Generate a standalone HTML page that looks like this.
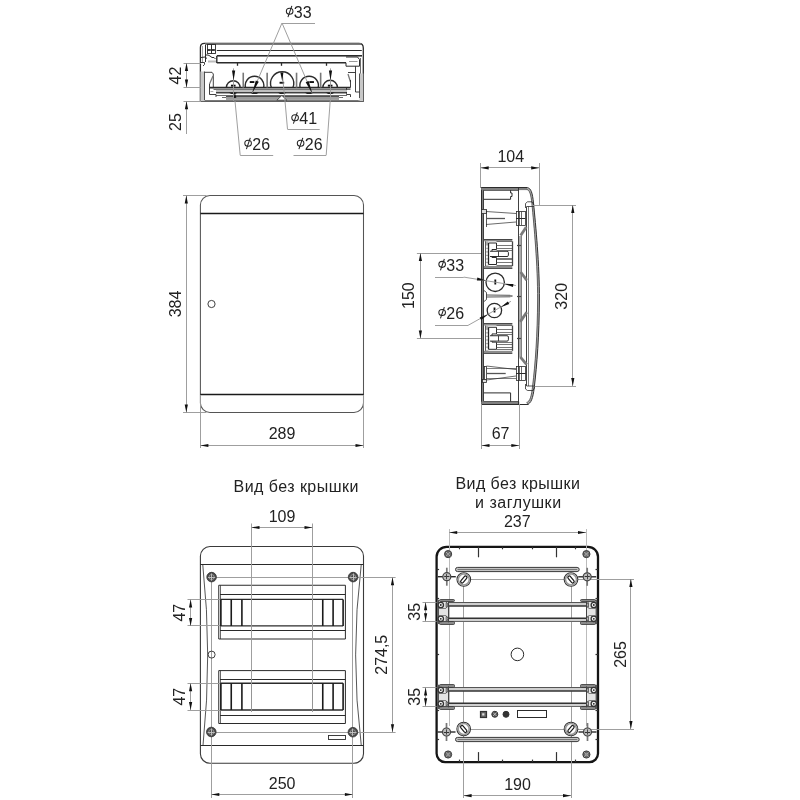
<!DOCTYPE html>
<html><head><meta charset="utf-8"><style>
html,body{margin:0;padding:0;background:#fff;}
svg{display:block;will-change:transform;}
text{font-family:"Liberation Sans",sans-serif;}
</style></head><body>
<svg width="800" height="800" viewBox="0 0 800 800">
<rect width="800" height="800" fill="#fff"/>
<path d="M200.4,101.2 L200.4,47.4 Q200.4,43.4 204.4,43.4 L358.8,43.4 Q363.3,43.4 363.3,47.9 L363.3,101.2 Z" stroke="#2b2b2b" stroke-width="1.3" fill="none" />
<rect x="205.00" y="43.40" width="156.00" height="1.40" rx="0" stroke="#2b2b2b" stroke-width="0" fill="#999"/>
<line x1="205.00" y1="44.50" x2="361.50" y2="44.50" stroke="#555" stroke-width="0.6" />
<line x1="216.80" y1="50.50" x2="361.80" y2="50.50" stroke="#2b2b2b" stroke-width="1.0" />
<line x1="216.80" y1="55.80" x2="362.00" y2="55.80" stroke="#2b2b2b" stroke-width="1.4" />
<line x1="216.80" y1="56.50" x2="362.00" y2="56.50" stroke="#777" stroke-width="0.6" />
<line x1="216.80" y1="62.80" x2="346.00" y2="62.80" stroke="#2b2b2b" stroke-width="1.5" />
<line x1="216.80" y1="56.00" x2="216.80" y2="63.00" stroke="#2b2b2b" stroke-width="1.4" />
<line x1="237.50" y1="62.80" x2="237.50" y2="65.80" stroke="#2b2b2b" stroke-width="1.3" />
<line x1="281.50" y1="62.80" x2="281.50" y2="65.80" stroke="#2b2b2b" stroke-width="1.3" />
<line x1="326.50" y1="62.80" x2="326.50" y2="65.80" stroke="#2b2b2b" stroke-width="1.3" />
<line x1="205.50" y1="45.00" x2="205.50" y2="62.00" stroke="#2b2b2b" stroke-width="1.0" />
<line x1="202.50" y1="46.00" x2="202.50" y2="62.00" stroke="#666" stroke-width="0.6" />
<rect x="207.50" y="44.50" width="4.00" height="9.00" rx="0" stroke="#2b2b2b" stroke-width="0.9" fill="none"/>
<rect x="211.50" y="44.50" width="4.00" height="9.00" rx="0" stroke="#2b2b2b" stroke-width="0.9" fill="none"/>
<rect x="207.60" y="49.20" width="3.20" height="1.60" rx="0" stroke="#2b2b2b" stroke-width="0" fill="#111"/>
<rect x="211.70" y="49.20" width="3.20" height="1.60" rx="0" stroke="#2b2b2b" stroke-width="0" fill="#111"/>
<path d="M205.00,55.00 L208.00,55.00 L210.00,56.00 L212.00,57.50 L214.00,57.50 L215.50,59.00" stroke="#2b2b2b" stroke-width="1.0" fill="none"/>
<path d="M201.00,57.50 L205.00,57.00 L207.00,58.50" stroke="#2b2b2b" stroke-width="1.0" fill="none"/>
<path d="M201.00,62.50 L204.50,62.50 L204.50,64.50 L203.00,66.00" stroke="#2b2b2b" stroke-width="0.9" fill="none"/>
<rect x="208.00" y="60.50" width="8.00" height="2.00" rx="0" stroke="#2b2b2b" stroke-width="0" fill="#bbb"/>
<path d="M346.00,57.00 L357.50,57.00 L359.50,59.50 L359.50,66.20 L346.00,66.20 L346.00,62.80" stroke="#2b2b2b" stroke-width="1.0" fill="none"/>
<line x1="349.00" y1="61.50" x2="357.50" y2="61.50" stroke="#999" stroke-width="1.0" />
<line x1="360.50" y1="58.00" x2="360.50" y2="100.00" stroke="#2b2b2b" stroke-width="0.7" />
<rect x="200.40" y="71.50" width="4.10" height="29.50" rx="0" stroke="#2b2b2b" stroke-width="0" fill="#c8c8c8"/>
<line x1="204.50" y1="71.50" x2="204.50" y2="100.00" stroke="#2b2b2b" stroke-width="0.8" />
<path d="M204.50,72.30 L212.00,72.30 L213.30,74.00 L213.30,87.50" stroke="#2b2b2b" stroke-width="0.9" fill="none"/>
<line x1="213.00" y1="76.00" x2="209.50" y2="84.00" stroke="#777" stroke-width="1.3" />
<path d="M209.50,84.00 L209.50,94.50 L216.00,94.50 L216.00,97.00" stroke="#2b2b2b" stroke-width="0.9" fill="none"/>
<line x1="210.50" y1="91.50" x2="213.30" y2="91.50" stroke="#777" stroke-width="0.6" />
<rect x="359.50" y="73.50" width="3.80" height="27.50" rx="0" stroke="#2b2b2b" stroke-width="0" fill="#c8c8c8"/>
<line x1="359.50" y1="73.50" x2="359.50" y2="98.00" stroke="#2b2b2b" stroke-width="0.8" />
<path d="M355.50,66.20 L355.50,92.00 L359.50,92.00" stroke="#2b2b2b" stroke-width="0.9" fill="none"/>
<path d="M355.50,72.50 L348.00,72.50" stroke="#2b2b2b" stroke-width="0.9" fill="none"/>
<line x1="348.00" y1="74.00" x2="350.50" y2="82.00" stroke="#777" stroke-width="1.3" />
<path d="M350.50,80.00 L350.50,87.50" stroke="#2b2b2b" stroke-width="0.9" fill="none"/>
<path d="M346.50,87.50 L346.50,94.50 L350.50,94.50 L350.50,97.00" stroke="#2b2b2b" stroke-width="0.9" fill="none"/>
<line x1="209.50" y1="87.60" x2="350.50" y2="87.60" stroke="#2b2b2b" stroke-width="1.7" />
<line x1="213.50" y1="89.50" x2="350.50" y2="89.50" stroke="#2b2b2b" stroke-width="0.7" />
<rect x="216.00" y="89.90" width="131.00" height="2.20" rx="0" stroke="#2b2b2b" stroke-width="0" fill="#c0c0c0"/>
<line x1="216.00" y1="92.50" x2="347.00" y2="92.50" stroke="#2b2b2b" stroke-width="0.9" />
<line x1="216.00" y1="93.50" x2="347.00" y2="93.50" stroke="#666" stroke-width="0.6" />
<line x1="216.00" y1="95.50" x2="347.00" y2="95.50" stroke="#2b2b2b" stroke-width="0.7" />
<line x1="222.00" y1="97.50" x2="343.00" y2="97.50" stroke="#2b2b2b" stroke-width="0.7" />
<line x1="205.00" y1="100.50" x2="358.00" y2="100.50" stroke="#666" stroke-width="0.6" />
<path d="M226.35,87.6 A6.9,6.9 0 1 1 240.15,87.6" stroke="#2b2b2b" stroke-width="1.4" fill="none" />
<rect x="230.95" y="84.70" width="4.60" height="1.90" rx="0" stroke="#2b2b2b" stroke-width="0" fill="#111"/>
<path d="M228.75,92.6 L237.75,92.6 L235.25,94 L231.25,94 Z" fill="#222"/>
<path d="M245.49,87.6 A9.3,9.3 0 1 1 263.61,87.6" stroke="#2b2b2b" stroke-width="1.4" fill="none" />
<rect x="249.75" y="81.10" width="4.60" height="1.90" rx="0" stroke="#2b2b2b" stroke-width="0" fill="#111"/>
<path d="M250.05,92.6 L259.05,92.6 L256.55,94 L252.55,94 Z" fill="#222"/>
<path d="M271.38,87.6 A11.6,11.6 0 1 1 292.92,87.6" stroke="#2b2b2b" stroke-width="1.4" fill="none" />
<rect x="279.55" y="81.80" width="4.60" height="1.90" rx="0" stroke="#2b2b2b" stroke-width="0" fill="#111"/>
<path d="M277.65,92.6 L286.65,92.6 L284.15,94 L280.15,94 Z" fill="#222"/>
<path d="M300.09,87.6 A9.3,9.3 0 1 1 318.21,87.6" stroke="#2b2b2b" stroke-width="1.4" fill="none" />
<rect x="309.35" y="81.10" width="4.60" height="1.90" rx="0" stroke="#2b2b2b" stroke-width="0" fill="#111"/>
<path d="M304.65,92.6 L313.65,92.6 L311.15,94 L307.15,94 Z" fill="#222"/>
<path d="M322.85,87.6 A7.3,7.3 0 1 1 337.45,87.6" stroke="#2b2b2b" stroke-width="1.4" fill="none" />
<rect x="327.85" y="84.70" width="4.60" height="1.90" rx="0" stroke="#2b2b2b" stroke-width="0" fill="#111"/>
<path d="M325.65,92.6 L334.65,92.6 L332.15,94 L328.15,94 Z" fill="#222"/>
<rect x="226.00" y="96.30" width="113.00" height="3.60" rx="0" stroke="#2b2b2b" stroke-width="0" fill="#9a9a9a"/>
<line x1="226.00" y1="96.50" x2="339.00" y2="96.50" stroke="#333" stroke-width="0.8" />
<path d="M276.85,100.2 L281.85,95.5 L286.85,100.2 Z" fill="#fff" stroke="#333" stroke-width="0.8"/>
<line x1="243.25" y1="72.70" x2="243.25" y2="87.60" stroke="#777" stroke-width="1.6" />
<line x1="267.15" y1="72.70" x2="267.15" y2="87.60" stroke="#777" stroke-width="1.6" />
<line x1="296.55" y1="72.70" x2="296.55" y2="87.60" stroke="#777" stroke-width="1.6" />
<line x1="320.65" y1="72.70" x2="320.65" y2="87.60" stroke="#777" stroke-width="1.6" />
<line x1="183.50" y1="63.50" x2="201.00" y2="63.50" stroke="#9a9a9a" stroke-width="0.95" />
<line x1="183.50" y1="87.50" x2="201.00" y2="87.50" stroke="#9a9a9a" stroke-width="0.95" />
<line x1="183.50" y1="101.50" x2="201.00" y2="101.50" stroke="#9a9a9a" stroke-width="0.95" />
<line x1="186.50" y1="63.00" x2="186.50" y2="87.50" stroke="#9a9a9a" stroke-width="0.95" />
<path d="M186.50,63.00 L188.10,71.00 L184.90,71.00 Z" fill="#111"/>
<path d="M186.50,87.50 L184.90,79.50 L188.10,79.50 Z" fill="#111"/>
<line x1="186.50" y1="101.20" x2="186.50" y2="134.00" stroke="#9a9a9a" stroke-width="0.95" />
<path d="M186.50,101.20 L188.10,109.20 L184.90,109.20 Z" fill="#111"/>
<text transform="translate(181.00,75.50) rotate(-90)" x="0" y="0" font-size="16" text-anchor="middle" fill="#222" letter-spacing="0">42</text>
<text transform="translate(181.00,122.00) rotate(-90)" x="0" y="0" font-size="16" text-anchor="middle" fill="#222" letter-spacing="0">25</text>
<line x1="282.00" y1="23.50" x2="315.00" y2="23.50" stroke="#9a9a9a" stroke-width="0.95" />
<line x1="282.00" y1="23.00" x2="252.20" y2="93.00" stroke="#9a9a9a" stroke-width="0.95" />
<path d="M252.20,93.00 L255.82,80.41 L258.76,81.67 Z" fill="#111"/>
<line x1="282.00" y1="23.00" x2="312.30" y2="93.60" stroke="#9a9a9a" stroke-width="0.95" />
<path d="M312.30,93.60 L305.70,82.28 L308.64,81.02 Z" fill="#111"/>
<ellipse cx="289.65" cy="11.25" rx="3.3" ry="3.0" stroke="#222" stroke-width="1.05" fill="none"/>
<line x1="291.85" y1="5.90" x2="287.95" y2="17.20" stroke="#222" stroke-width="1.05"/>
<text transform="translate(293.85,17.50)" x="0" y="0" font-size="16" text-anchor="start" fill="#222" letter-spacing="0">33</text>
<line x1="282.50" y1="76.00" x2="285.00" y2="101.00" stroke="#9a9a9a" stroke-width="0.95" />
<line x1="285.00" y1="101.00" x2="287.50" y2="129.20" stroke="#9a9a9a" stroke-width="0.95" />
<line x1="287.50" y1="129.50" x2="319.70" y2="129.50" stroke="#9a9a9a" stroke-width="0.95" />
<path d="M282.30,81.50 L280.35,72.59 L283.35,72.44 Z" fill="#111"/>
<ellipse cx="295.10" cy="117.75" rx="3.3" ry="3.0" stroke="#222" stroke-width="1.05" fill="none"/>
<line x1="297.30" y1="112.40" x2="293.40" y2="123.70" stroke="#222" stroke-width="1.05"/>
<text transform="translate(299.30,124.00)" x="0" y="0" font-size="16" text-anchor="start" fill="#222" letter-spacing="0">41</text>
<line x1="233.50" y1="68.40" x2="233.50" y2="101.00" stroke="#9a9a9a" stroke-width="0.95" />
<line x1="235.00" y1="101.00" x2="240.20" y2="155.20" stroke="#9a9a9a" stroke-width="0.95" />
<line x1="240.20" y1="155.50" x2="273.20" y2="155.50" stroke="#9a9a9a" stroke-width="0.95" />
<path d="M233.60,80.50 L232.00,70.50 L235.20,70.50 Z" fill="#111"/>
<path d="M234.60,92.00 L236.39,97.85 L234.00,98.09 Z" fill="#111"/>
<ellipse cx="248.10" cy="143.25" rx="3.3" ry="3.0" stroke="#222" stroke-width="1.05" fill="none"/>
<line x1="250.30" y1="137.90" x2="246.40" y2="149.20" stroke="#222" stroke-width="1.05"/>
<text transform="translate(252.30,149.50)" x="0" y="0" font-size="16" text-anchor="start" fill="#222" letter-spacing="0">26</text>
<line x1="330.50" y1="68.40" x2="330.50" y2="101.00" stroke="#9a9a9a" stroke-width="0.95" />
<line x1="330.20" y1="101.00" x2="326.20" y2="155.20" stroke="#9a9a9a" stroke-width="0.95" />
<line x1="326.20" y1="155.50" x2="293.50" y2="155.50" stroke="#9a9a9a" stroke-width="0.95" />
<path d="M330.50,80.50 L328.90,70.50 L332.10,70.50 Z" fill="#111"/>
<ellipse cx="300.60" cy="143.25" rx="3.3" ry="3.0" stroke="#222" stroke-width="1.05" fill="none"/>
<line x1="302.80" y1="137.90" x2="298.90" y2="149.20" stroke="#222" stroke-width="1.05"/>
<text transform="translate(304.80,149.50)" x="0" y="0" font-size="16" text-anchor="start" fill="#222" letter-spacing="0">26</text>
<path d="M209.9,195.5 L354.0,195.5 A9.5,9.5 0 0 1 363.5,205.0 L363.5,403.0 A9.5,9.5 0 0 1 354.0,412.5 L209.9,412.5 A9.5,9.5 0 0 1 200.4,403.0 L200.4,205.0 A9.5,9.5 0 0 1 209.9,195.5 Z" stroke="#555" stroke-width="1.05" fill="none" />
<line x1="200.40" y1="213.50" x2="363.50" y2="213.50" stroke="#1a1a1a" stroke-width="1.3" />
<line x1="200.40" y1="394.50" x2="363.50" y2="394.50" stroke="#1a1a1a" stroke-width="1.3" />
<circle cx="211.50" cy="304.00" r="3.60" stroke="#2b2b2b" stroke-width="0.9" fill="none"/>
<line x1="183.00" y1="195.50" x2="206.40" y2="195.50" stroke="#9a9a9a" stroke-width="0.95" />
<line x1="183.00" y1="412.50" x2="206.40" y2="412.50" stroke="#9a9a9a" stroke-width="0.95" />
<line x1="186.50" y1="195.50" x2="186.50" y2="412.50" stroke="#9a9a9a" stroke-width="0.95" />
<path d="M186.30,195.50 L187.90,203.50 L184.70,203.50 Z" fill="#111"/>
<path d="M186.30,412.50 L184.70,404.50 L187.90,404.50 Z" fill="#111"/>
<text transform="translate(181.00,304.00) rotate(-90)" x="0" y="0" font-size="16" text-anchor="middle" fill="#222" letter-spacing="0">384</text>
<line x1="200.50" y1="395.00" x2="200.50" y2="448.00" stroke="#9a9a9a" stroke-width="0.95" />
<line x1="363.50" y1="395.00" x2="363.50" y2="448.00" stroke="#9a9a9a" stroke-width="0.95" />
<line x1="200.40" y1="445.50" x2="363.50" y2="445.50" stroke="#9a9a9a" stroke-width="0.95" />
<path d="M200.40,445.50 L208.40,443.90 L208.40,447.10 Z" fill="#111"/>
<path d="M363.50,445.50 L355.50,447.10 L355.50,443.90 Z" fill="#111"/>
<text transform="translate(282.00,438.90)" x="0" y="0" font-size="16" text-anchor="middle" fill="#222" letter-spacing="0">289</text>
<rect x="481.20" y="187.70" width="2.70" height="216.50" rx="0" stroke="#2b2b2b" stroke-width="0" fill="#808080"/>
<line x1="481.50" y1="187.70" x2="481.50" y2="404.20" stroke="#2b2b2b" stroke-width="1.0" />
<line x1="483.50" y1="190.10" x2="483.50" y2="401.60" stroke="#2b2b2b" stroke-width="0.8" />
<rect x="481.20" y="187.70" width="46.40" height="2.40" rx="0" stroke="#2b2b2b" stroke-width="0" fill="#808080"/>
<line x1="481.20" y1="187.50" x2="527.60" y2="187.50" stroke="#2b2b2b" stroke-width="1.0" />
<line x1="483.90" y1="190.50" x2="518.60" y2="190.50" stroke="#2b2b2b" stroke-width="0.7" />
<rect x="481.20" y="401.60" width="38.10" height="2.60" rx="0" stroke="#2b2b2b" stroke-width="0" fill="#808080"/>
<line x1="481.20" y1="404.50" x2="528.50" y2="404.50" stroke="#2b2b2b" stroke-width="1.0" />
<line x1="483.90" y1="401.50" x2="518.60" y2="401.50" stroke="#2b2b2b" stroke-width="0.7" />
<line x1="518.50" y1="187.70" x2="518.50" y2="404.20" stroke="#2b2b2b" stroke-width="0.9" />
<rect x="519.00" y="236.00" width="2.00" height="121.00" rx="0" stroke="#2b2b2b" stroke-width="0" fill="#aaa"/>
<line x1="521.50" y1="236.00" x2="521.50" y2="357.00" stroke="#2b2b2b" stroke-width="0.6" />
<path d="M527.2,188.6 C530.3,189.1 531.7,193.5 532.7,203.2 C534.85,225.5 538.7,265 538.5,300 C538.3,335 536.15,364.5 533.4,387 C532.25,397 530.5,403 526.75,403.3" stroke="#b0b0b0" stroke-width="2.0" fill="none" />
<path d="M527.5,187.7 C531,188.2 532.5,193 533.5,203 C535.7,225 539.6,265 539.4,300 C539.2,335 537,365 534.2,388 C533,398 531,404 527.0,404.2" stroke="#333" stroke-width="1.0" fill="none" />
<path d="M526.8,189.5 C529.6,190 530.9,194 531.9,203.5 C534.0,226 537.8,265 537.6,300 C537.4,335 535.3,364 532.6,386 C531.5,396 530,402 526.5,402.4" stroke="#444" stroke-width="0.8" fill="none" />
<line x1="526.50" y1="206.50" x2="526.50" y2="386.00" stroke="#2b2b2b" stroke-width="0.9" />
<line x1="528.50" y1="206.50" x2="528.50" y2="386.00" stroke="#2b2b2b" stroke-width="0.6" />
<path d="M525.50,208.00 L525.50,203.50 L527.50,201.80 L532.00,201.80 L533.60,204.50 L533.60,206.50 L526.70,206.50" stroke="#2b2b2b" stroke-width="0.8" fill="none"/>
<path d="M525.50,384.00 L525.50,389.00 L527.50,390.50 L533.00,390.50 L534.40,388.00 L534.40,386.00 L526.70,386.00" stroke="#2b2b2b" stroke-width="0.8" fill="none"/>
<path d="M483.90,199.30 L510.60,199.30 L510.60,196.50 L512.00,196.50 L512.00,193.00 L510.60,193.00 L510.60,190.10" stroke="#2b2b2b" stroke-width="1.0" fill="none"/>
<rect x="481.50" y="209.50" width="5.00" height="4.00" rx="0" stroke="#2b2b2b" stroke-width="0.8" fill="#ddd"/>
<line x1="486.00" y1="211.50" x2="516.00" y2="213.50" stroke="#2b2b2b" stroke-width="0.7" />
<line x1="486.00" y1="224.50" x2="516.00" y2="222.00" stroke="#2b2b2b" stroke-width="0.7" />
<line x1="486.50" y1="210.50" x2="486.50" y2="227.00" stroke="#2b2b2b" stroke-width="0.8" />
<line x1="486.00" y1="218.50" x2="505.00" y2="218.50" stroke="#555" stroke-width="1.3" />
<rect x="516.50" y="211.50" width="9.00" height="14.00" rx="0" stroke="#2b2b2b" stroke-width="0.8" fill="none"/>
<line x1="519.50" y1="211.50" x2="519.50" y2="225.00" stroke="#2b2b2b" stroke-width="0.7" />
<line x1="521.50" y1="211.50" x2="521.50" y2="225.00" stroke="#2b2b2b" stroke-width="0.7" />
<line x1="516.00" y1="218.50" x2="525.30" y2="218.50" stroke="#2b2b2b" stroke-width="1.0" />
<line x1="520.60" y1="235.60" x2="526.30" y2="226.90" stroke="#7a7a7a" stroke-width="2.8" />
<line x1="520.60" y1="272.00" x2="526.70" y2="280.20" stroke="#7a7a7a" stroke-width="2.8" />
<line x1="526.70" y1="312.20" x2="520.20" y2="321.90" stroke="#7a7a7a" stroke-width="2.8" />
<line x1="520.20" y1="356.90" x2="526.70" y2="364.70" stroke="#7a7a7a" stroke-width="2.8" />
<rect x="483.90" y="239.00" width="28.40" height="2.30" rx="0" stroke="#2b2b2b" stroke-width="0" fill="#8c8c8c"/>
<rect x="483.90" y="266.00" width="28.40" height="2.50" rx="0" stroke="#2b2b2b" stroke-width="0" fill="#8c8c8c"/>
<line x1="483.90" y1="239.50" x2="512.30" y2="239.50" stroke="#333" stroke-width="0.8" />
<line x1="483.90" y1="268.50" x2="512.30" y2="268.50" stroke="#333" stroke-width="0.8" />
<line x1="485.50" y1="241.30" x2="485.50" y2="266.00" stroke="#333" stroke-width="0.9" />
<line x1="512.50" y1="241.30" x2="512.50" y2="266.00" stroke="#444" stroke-width="1.3" />
<rect x="485.80" y="241.30" width="2.60" height="24.70" rx="0" stroke="#2b2b2b" stroke-width="0" fill="#b0b0b0"/>
<rect x="486.10" y="245.50" width="2.00" height="2.30" rx="0" stroke="#2b2b2b" stroke-width="0" fill="#fff"/>
<rect x="486.10" y="249.00" width="2.00" height="2.30" rx="0" stroke="#2b2b2b" stroke-width="0" fill="#fff"/>
<rect x="486.10" y="252.50" width="2.00" height="2.30" rx="0" stroke="#2b2b2b" stroke-width="0" fill="#fff"/>
<rect x="486.10" y="256.00" width="2.00" height="2.30" rx="0" stroke="#2b2b2b" stroke-width="0" fill="#fff"/>
<rect x="486.10" y="259.50" width="2.00" height="2.30" rx="0" stroke="#2b2b2b" stroke-width="0" fill="#fff"/>
<rect x="486.10" y="263.00" width="2.00" height="2.30" rx="0" stroke="#2b2b2b" stroke-width="0" fill="#fff"/>
<line x1="488.50" y1="243.00" x2="488.50" y2="264.50" stroke="#222" stroke-width="1.3" />
<path d="M488.60,243.00 L496.50,243.00 L496.50,249.50 L492.00,249.50 L492.00,251.25" stroke="#2b2b2b" stroke-width="1.0" fill="none"/>
<path d="M488.60,264.50 L496.50,264.50 L496.50,257.50 L492.00,257.50 L492.00,256.50" stroke="#2b2b2b" stroke-width="1.0" fill="none"/>
<path d="M490,251.25 L507,251.25 Q508.4,251.25 508.4,252.50 L508.4,255.25 Q508.4,256.50 507,256.50 L490,256.50" stroke="#2b2b2b" stroke-width="1.0" fill="none" />
<line x1="498.50" y1="251.25" x2="498.50" y2="256.50" stroke="#333" stroke-width="0.9" />
<line x1="496.50" y1="241.50" x2="512.00" y2="241.50" stroke="#555" stroke-width="0.8" />
<line x1="496.50" y1="245.50" x2="512.00" y2="245.50" stroke="#555" stroke-width="0.8" />
<line x1="496.50" y1="248.50" x2="512.00" y2="248.50" stroke="#555" stroke-width="0.8" />
<line x1="496.50" y1="250.50" x2="512.00" y2="250.50" stroke="#555" stroke-width="0.8" />
<line x1="496.50" y1="258.50" x2="512.00" y2="258.50" stroke="#555" stroke-width="0.8" />
<line x1="496.50" y1="259.50" x2="512.00" y2="259.50" stroke="#555" stroke-width="0.8" />
<line x1="496.50" y1="262.50" x2="512.00" y2="262.50" stroke="#555" stroke-width="0.8" />
<line x1="496.50" y1="265.50" x2="512.00" y2="265.50" stroke="#555" stroke-width="0.8" />
<rect x="483.90" y="323.20" width="28.40" height="2.35" rx="0" stroke="#2b2b2b" stroke-width="0" fill="#8c8c8c"/>
<rect x="483.90" y="350.84" width="28.40" height="2.56" rx="0" stroke="#2b2b2b" stroke-width="0" fill="#8c8c8c"/>
<line x1="483.90" y1="323.50" x2="512.30" y2="323.50" stroke="#333" stroke-width="0.8" />
<line x1="483.90" y1="353.50" x2="512.30" y2="353.50" stroke="#333" stroke-width="0.8" />
<line x1="485.50" y1="325.55" x2="485.50" y2="350.84" stroke="#333" stroke-width="0.9" />
<line x1="512.50" y1="325.55" x2="512.50" y2="350.84" stroke="#444" stroke-width="1.3" />
<rect x="485.80" y="325.55" width="2.60" height="25.29" rx="0" stroke="#2b2b2b" stroke-width="0" fill="#b0b0b0"/>
<rect x="486.10" y="329.85" width="2.00" height="2.35" rx="0" stroke="#2b2b2b" stroke-width="0" fill="#fff"/>
<rect x="486.10" y="333.44" width="2.00" height="2.35" rx="0" stroke="#2b2b2b" stroke-width="0" fill="#fff"/>
<rect x="486.10" y="337.02" width="2.00" height="2.35" rx="0" stroke="#2b2b2b" stroke-width="0" fill="#fff"/>
<rect x="486.10" y="340.60" width="2.00" height="2.35" rx="0" stroke="#2b2b2b" stroke-width="0" fill="#fff"/>
<rect x="486.10" y="344.19" width="2.00" height="2.35" rx="0" stroke="#2b2b2b" stroke-width="0" fill="#fff"/>
<rect x="486.10" y="347.77" width="2.00" height="2.35" rx="0" stroke="#2b2b2b" stroke-width="0" fill="#fff"/>
<line x1="488.50" y1="327.29" x2="488.50" y2="349.31" stroke="#222" stroke-width="1.3" />
<path d="M488.60,327.29 L496.50,327.29 L496.50,333.95 L492.00,333.95 L492.00,335.74" stroke="#2b2b2b" stroke-width="1.0" fill="none"/>
<path d="M488.60,349.31 L496.50,349.31 L496.50,342.14 L492.00,342.14 L492.00,341.12" stroke="#2b2b2b" stroke-width="1.0" fill="none"/>
<path d="M490,335.74 L507,335.74 Q508.4,335.74 508.4,337.02 L508.4,339.84 Q508.4,341.12 507,341.12 L490,341.12" stroke="#2b2b2b" stroke-width="1.0" fill="none" />
<line x1="498.50" y1="335.74" x2="498.50" y2="341.12" stroke="#333" stroke-width="0.9" />
<line x1="496.50" y1="325.50" x2="512.00" y2="325.50" stroke="#555" stroke-width="0.8" />
<line x1="496.50" y1="329.50" x2="512.00" y2="329.50" stroke="#555" stroke-width="0.8" />
<line x1="496.50" y1="332.50" x2="512.00" y2="332.50" stroke="#555" stroke-width="0.8" />
<line x1="496.50" y1="334.50" x2="512.00" y2="334.50" stroke="#555" stroke-width="0.8" />
<line x1="496.50" y1="342.50" x2="512.00" y2="342.50" stroke="#555" stroke-width="0.8" />
<line x1="496.50" y1="344.50" x2="512.00" y2="344.50" stroke="#555" stroke-width="0.8" />
<line x1="496.50" y1="347.50" x2="512.00" y2="347.50" stroke="#555" stroke-width="0.8" />
<line x1="496.50" y1="349.50" x2="512.00" y2="349.50" stroke="#555" stroke-width="0.8" />
<circle cx="495.20" cy="282.30" r="9.20" stroke="#2b2b2b" stroke-width="1.3" fill="none"/>
<rect x="494.40" y="279.50" width="1.80" height="5.00" rx="0" stroke="#2b2b2b" stroke-width="0" fill="#111"/>
<circle cx="494.40" cy="310.50" r="7.20" stroke="#2b2b2b" stroke-width="1.3" fill="none"/>
<rect x="493.60" y="307.50" width="1.80" height="5.00" rx="0" stroke="#2b2b2b" stroke-width="0" fill="#111"/>
<path d="M484.00,290.50 L486.50,292.50 L486.50,299.50 L484.00,301.50" stroke="#2b2b2b" stroke-width="0.8" fill="none"/>
<line x1="486.50" y1="295.00" x2="510.00" y2="295.30" stroke="#2b2b2b" stroke-width="0.8" />
<line x1="486.50" y1="297.00" x2="510.00" y2="296.80" stroke="#2b2b2b" stroke-width="0.8" />
<path d="M510.00,295.30 L512.50,296.00 L510.00,296.80" stroke="#2b2b2b" stroke-width="0.6" fill="none"/>
<rect x="484.50" y="366.50" width="2.00" height="13.00" rx="0" stroke="#2b2b2b" stroke-width="0.8" fill="none"/>
<rect x="482.50" y="379.50" width="4.00" height="3.00" rx="0" stroke="#2b2b2b" stroke-width="0.8" fill="#ddd"/>
<line x1="486.50" y1="366.00" x2="516.00" y2="369.50" stroke="#2b2b2b" stroke-width="0.7" />
<line x1="486.50" y1="380.00" x2="516.00" y2="376.00" stroke="#2b2b2b" stroke-width="0.7" />
<line x1="486.50" y1="368.50" x2="516.00" y2="368.50" stroke="#2b2b2b" stroke-width="0.6" />
<line x1="486.50" y1="378.50" x2="516.00" y2="378.50" stroke="#2b2b2b" stroke-width="0.6" />
<line x1="486.50" y1="373.50" x2="505.70" y2="373.50" stroke="#555" stroke-width="1.3" />
<rect x="516.50" y="366.50" width="9.00" height="14.00" rx="0" stroke="#2b2b2b" stroke-width="0.8" fill="none"/>
<line x1="519.50" y1="366.50" x2="519.50" y2="380.00" stroke="#2b2b2b" stroke-width="0.7" />
<line x1="521.50" y1="366.50" x2="521.50" y2="380.00" stroke="#2b2b2b" stroke-width="0.7" />
<line x1="516.00" y1="373.50" x2="525.80" y2="373.50" stroke="#2b2b2b" stroke-width="1.0" />
<path d="M483.90,392.90 L510.60,392.90 L510.60,401.60" stroke="#2b2b2b" stroke-width="1.0" fill="none"/>
<line x1="517.00" y1="245.50" x2="521.00" y2="245.50" stroke="#444" stroke-width="1.2" />
<line x1="517.00" y1="296.50" x2="521.00" y2="296.50" stroke="#444" stroke-width="1.2" />
<line x1="517.00" y1="338.50" x2="521.00" y2="338.50" stroke="#444" stroke-width="1.2" />
<line x1="480.50" y1="163.00" x2="480.50" y2="188.00" stroke="#9a9a9a" stroke-width="0.95" />
<line x1="539.50" y1="163.00" x2="539.50" y2="205.00" stroke="#9a9a9a" stroke-width="0.95" />
<line x1="480.70" y1="167.50" x2="539.20" y2="167.50" stroke="#9a9a9a" stroke-width="0.95" />
<path d="M480.70,167.90 L488.70,166.30 L488.70,169.50 Z" fill="#111"/>
<path d="M539.20,167.90 L531.20,169.50 L531.20,166.30 Z" fill="#111"/>
<text transform="translate(510.80,161.60)" x="0" y="0" font-size="16" text-anchor="middle" fill="#222" letter-spacing="0">104</text>
<line x1="416.90" y1="253.50" x2="481.00" y2="253.50" stroke="#9a9a9a" stroke-width="0.95" />
<line x1="416.90" y1="338.50" x2="481.00" y2="338.50" stroke="#9a9a9a" stroke-width="0.95" />
<line x1="420.50" y1="253.10" x2="420.50" y2="338.40" stroke="#9a9a9a" stroke-width="0.95" />
<path d="M420.40,253.10 L422.00,261.10 L418.80,261.10 Z" fill="#111"/>
<path d="M420.40,338.40 L418.80,330.40 L422.00,330.40 Z" fill="#111"/>
<text transform="translate(414.40,295.60) rotate(-90)" x="0" y="0" font-size="16" text-anchor="middle" fill="#222" letter-spacing="0">150</text>
<line x1="532.50" y1="205.50" x2="576.00" y2="205.50" stroke="#9a9a9a" stroke-width="0.95" />
<line x1="534.60" y1="386.50" x2="576.00" y2="386.50" stroke="#9a9a9a" stroke-width="0.95" />
<line x1="572.50" y1="205.00" x2="572.50" y2="386.00" stroke="#9a9a9a" stroke-width="0.95" />
<path d="M572.80,205.00 L574.40,213.00 L571.20,213.00 Z" fill="#111"/>
<path d="M572.80,386.00 L571.20,378.00 L574.40,378.00 Z" fill="#111"/>
<text transform="translate(567.00,296.30) rotate(-90)" x="0" y="0" font-size="16" text-anchor="middle" fill="#222" letter-spacing="0">320</text>
<line x1="481.50" y1="404.00" x2="481.50" y2="449.00" stroke="#9a9a9a" stroke-width="0.95" />
<line x1="519.50" y1="404.00" x2="519.50" y2="449.00" stroke="#9a9a9a" stroke-width="0.95" />
<line x1="481.50" y1="445.50" x2="519.30" y2="445.50" stroke="#9a9a9a" stroke-width="0.95" />
<path d="M481.50,445.50 L489.50,443.90 L489.50,447.10 Z" fill="#111"/>
<path d="M519.30,445.50 L511.30,447.10 L511.30,443.90 Z" fill="#111"/>
<text transform="translate(500.60,439.00)" x="0" y="0" font-size="16" text-anchor="middle" fill="#222" letter-spacing="0">67</text>
<line x1="435.00" y1="277.50" x2="463.75" y2="277.50" stroke="#9a9a9a" stroke-width="0.95" />
<line x1="463.75" y1="277.10" x2="515.80" y2="285.50" stroke="#9a9a9a" stroke-width="0.95" />
<path d="M486.00,280.50 L476.88,280.56 L477.35,277.60 Z" fill="#111"/>
<path d="M504.30,284.00 L513.42,283.94 L512.95,286.90 Z" fill="#111"/>
<ellipse cx="442.15" cy="264.35" rx="3.3" ry="3.0" stroke="#222" stroke-width="1.05" fill="none"/>
<line x1="444.35" y1="259.00" x2="440.45" y2="270.30" stroke="#222" stroke-width="1.05"/>
<text transform="translate(446.35,270.60)" x="0" y="0" font-size="16" text-anchor="start" fill="#222" letter-spacing="0">33</text>
<line x1="435.00" y1="325.50" x2="468.00" y2="325.50" stroke="#9a9a9a" stroke-width="0.95" />
<line x1="468.00" y1="325.40" x2="511.00" y2="301.30" stroke="#9a9a9a" stroke-width="0.95" />
<path d="M488.30,314.30 L481.18,320.01 L479.71,317.39 Z" fill="#111"/>
<path d="M500.70,307.20 L507.82,301.49 L509.29,304.11 Z" fill="#111"/>
<ellipse cx="442.15" cy="312.50" rx="3.3" ry="3.0" stroke="#222" stroke-width="1.05" fill="none"/>
<line x1="444.35" y1="307.15" x2="440.45" y2="318.45" stroke="#222" stroke-width="1.05"/>
<text transform="translate(446.35,318.75)" x="0" y="0" font-size="16" text-anchor="start" fill="#222" letter-spacing="0">26</text>
<path d="M210.0,546.5 L353.9,546.5 A9.6,9.6 0 0 1 363.5,556.1 L363.5,753.6999999999999 A9.6,9.6 0 0 1 353.9,763.3 L210.0,763.3 A9.6,9.6 0 0 1 200.4,753.6999999999999 L200.4,556.1 A9.6,9.6 0 0 1 210.0,546.5 Z" stroke="#3a3a3a" stroke-width="1.1" fill="none" />
<line x1="200.40" y1="564.50" x2="363.50" y2="564.50" stroke="#2a2a2a" stroke-width="1.1" />
<line x1="200.40" y1="745.50" x2="363.50" y2="745.50" stroke="#2a2a2a" stroke-width="1.1" />
<path d="M202.75,564.4 Q212.5,654.9 203,745.4" stroke="#2b2b2b" stroke-width="0.8" fill="none" />
<path d="M361.25,564.4 Q350,654.9 361.25,745.4" stroke="#2b2b2b" stroke-width="0.8" fill="none" />
<line x1="211.50" y1="572.00" x2="211.50" y2="798.00" stroke="#9a9a9a" stroke-width="0.95" />
<line x1="352.50" y1="572.00" x2="352.50" y2="798.00" stroke="#9a9a9a" stroke-width="0.95" />
<line x1="216.00" y1="577.50" x2="395.60" y2="577.50" stroke="#9a9a9a" stroke-width="0.95" />
<line x1="216.00" y1="732.50" x2="395.60" y2="732.50" stroke="#9a9a9a" stroke-width="0.95" />
<path d="M345.4,585.25 L218.75,585.25 L218.75,639.0 L345.4,639.0 Z" stroke="#2b2b2b" stroke-width="1.0" fill="none" />
<line x1="220.50" y1="585.25" x2="220.50" y2="639.00" stroke="#2b2b2b" stroke-width="0.7" />
<line x1="220.00" y1="594.50" x2="345.40" y2="594.50" stroke="#2b2b2b" stroke-width="1.0" />
<line x1="220.00" y1="630.50" x2="345.40" y2="630.50" stroke="#2b2b2b" stroke-width="1.0" />
<line x1="187.50" y1="599.50" x2="220.60" y2="599.50" stroke="#9a9a9a" stroke-width="0.95" />
<line x1="187.50" y1="625.50" x2="220.60" y2="625.50" stroke="#9a9a9a" stroke-width="0.95" />
<line x1="220.60" y1="599.40" x2="343.10" y2="599.40" stroke="#2b2b2b" stroke-width="1.4" />
<line x1="220.60" y1="625.90" x2="343.10" y2="625.90" stroke="#2b2b2b" stroke-width="1.4" />
<line x1="220.90" y1="599.40" x2="220.90" y2="625.90" stroke="#1a1a1a" stroke-width="1.6" />
<line x1="231.25" y1="599.40" x2="231.25" y2="625.90" stroke="#1a1a1a" stroke-width="1.6" />
<line x1="241.90" y1="599.40" x2="241.90" y2="625.90" stroke="#1a1a1a" stroke-width="1.6" />
<line x1="322.75" y1="599.40" x2="322.75" y2="625.90" stroke="#1a1a1a" stroke-width="1.6" />
<line x1="333.10" y1="599.40" x2="333.10" y2="625.90" stroke="#1a1a1a" stroke-width="1.6" />
<line x1="343.10" y1="599.40" x2="343.10" y2="625.90" stroke="#1a1a1a" stroke-width="1.6" />
<line x1="251.50" y1="599.40" x2="251.50" y2="625.90" stroke="#2b2b2b" stroke-width="0.9" />
<line x1="312.50" y1="599.40" x2="312.50" y2="625.90" stroke="#2b2b2b" stroke-width="0.9" />
<line x1="190.50" y1="599.40" x2="190.50" y2="625.90" stroke="#9a9a9a" stroke-width="0.95" />
<path d="M190.60,599.40 L192.20,607.40 L189.00,607.40 Z" fill="#111"/>
<path d="M190.60,625.90 L189.00,617.90 L192.20,617.90 Z" fill="#111"/>
<text transform="translate(185.00,612.65) rotate(-90)" x="0" y="0" font-size="16" text-anchor="middle" fill="#222" letter-spacing="0">47</text>
<path d="M345.4,670.6 L218.75,670.6 L218.75,723.5 L345.4,723.5 Z" stroke="#2b2b2b" stroke-width="1.0" fill="none" />
<line x1="220.50" y1="670.60" x2="220.50" y2="723.50" stroke="#2b2b2b" stroke-width="0.7" />
<line x1="220.00" y1="679.50" x2="345.40" y2="679.50" stroke="#2b2b2b" stroke-width="1.0" />
<line x1="220.00" y1="715.50" x2="345.40" y2="715.50" stroke="#2b2b2b" stroke-width="1.0" />
<line x1="187.50" y1="683.50" x2="220.60" y2="683.50" stroke="#9a9a9a" stroke-width="0.95" />
<line x1="187.50" y1="710.50" x2="220.60" y2="710.50" stroke="#9a9a9a" stroke-width="0.95" />
<line x1="220.60" y1="683.30" x2="343.10" y2="683.30" stroke="#2b2b2b" stroke-width="1.4" />
<line x1="220.60" y1="710.00" x2="343.10" y2="710.00" stroke="#2b2b2b" stroke-width="1.4" />
<line x1="220.90" y1="683.30" x2="220.90" y2="710.00" stroke="#1a1a1a" stroke-width="1.6" />
<line x1="231.25" y1="683.30" x2="231.25" y2="710.00" stroke="#1a1a1a" stroke-width="1.6" />
<line x1="241.90" y1="683.30" x2="241.90" y2="710.00" stroke="#1a1a1a" stroke-width="1.6" />
<line x1="322.75" y1="683.30" x2="322.75" y2="710.00" stroke="#1a1a1a" stroke-width="1.6" />
<line x1="333.10" y1="683.30" x2="333.10" y2="710.00" stroke="#1a1a1a" stroke-width="1.6" />
<line x1="343.10" y1="683.30" x2="343.10" y2="710.00" stroke="#1a1a1a" stroke-width="1.6" />
<line x1="251.50" y1="683.30" x2="251.50" y2="710.00" stroke="#2b2b2b" stroke-width="0.9" />
<line x1="312.50" y1="683.30" x2="312.50" y2="710.00" stroke="#2b2b2b" stroke-width="0.9" />
<line x1="190.50" y1="683.30" x2="190.50" y2="710.00" stroke="#9a9a9a" stroke-width="0.95" />
<path d="M190.60,683.30 L192.20,691.30 L189.00,691.30 Z" fill="#111"/>
<path d="M190.60,710.00 L189.00,702.00 L192.20,702.00 Z" fill="#111"/>
<text transform="translate(185.00,696.65) rotate(-90)" x="0" y="0" font-size="16" text-anchor="middle" fill="#222" letter-spacing="0">47</text>
<line x1="251.50" y1="523.50" x2="251.50" y2="712.00" stroke="#9a9a9a" stroke-width="0.95" />
<line x1="312.50" y1="523.50" x2="312.50" y2="712.00" stroke="#9a9a9a" stroke-width="0.95" />
<line x1="251.50" y1="527.50" x2="312.50" y2="527.50" stroke="#9a9a9a" stroke-width="0.95" />
<path d="M251.50,527.50 L259.50,525.90 L259.50,529.10 Z" fill="#111"/>
<path d="M312.50,527.50 L304.50,529.10 L304.50,525.90 Z" fill="#111"/>
<text transform="translate(282.00,521.60)" x="0" y="0" font-size="16" text-anchor="middle" fill="#222" letter-spacing="0">109</text>
<circle cx="211.60" cy="577.10" r="4.80" stroke="#333" stroke-width="0.8" fill="#4a4a4a"/>
<line x1="208.00" y1="577.50" x2="215.20" y2="577.50" stroke="#c8c8c8" stroke-width="0.9" />
<line x1="211.50" y1="573.50" x2="211.50" y2="580.70" stroke="#c8c8c8" stroke-width="0.9" />
<circle cx="211.60" cy="577.10" r="2.60" stroke="#bbb" stroke-width="0.6" fill="none"/>
<circle cx="353.10" cy="577.10" r="4.80" stroke="#333" stroke-width="0.8" fill="#4a4a4a"/>
<line x1="349.50" y1="577.50" x2="356.70" y2="577.50" stroke="#c8c8c8" stroke-width="0.9" />
<line x1="353.50" y1="573.50" x2="353.50" y2="580.70" stroke="#c8c8c8" stroke-width="0.9" />
<circle cx="353.10" cy="577.10" r="2.60" stroke="#bbb" stroke-width="0.6" fill="none"/>
<circle cx="211.30" cy="732.00" r="4.80" stroke="#333" stroke-width="0.8" fill="#4a4a4a"/>
<line x1="207.70" y1="732.50" x2="214.90" y2="732.50" stroke="#c8c8c8" stroke-width="0.9" />
<line x1="211.50" y1="728.40" x2="211.50" y2="735.60" stroke="#c8c8c8" stroke-width="0.9" />
<circle cx="211.30" cy="732.00" r="2.60" stroke="#bbb" stroke-width="0.6" fill="none"/>
<circle cx="352.90" cy="732.20" r="4.80" stroke="#333" stroke-width="0.8" fill="#4a4a4a"/>
<line x1="349.30" y1="732.50" x2="356.50" y2="732.50" stroke="#c8c8c8" stroke-width="0.9" />
<line x1="352.50" y1="728.60" x2="352.50" y2="735.80" stroke="#c8c8c8" stroke-width="0.9" />
<circle cx="352.90" cy="732.20" r="2.60" stroke="#bbb" stroke-width="0.6" fill="none"/>
<circle cx="211.60" cy="654.60" r="3.50" stroke="#2b2b2b" stroke-width="0.9" fill="none"/>
<rect x="328.50" y="735.50" width="17.00" height="4.00" rx="0" stroke="#2b2b2b" stroke-width="0.9" fill="none"/>
<line x1="392.50" y1="577.30" x2="392.50" y2="732.20" stroke="#9a9a9a" stroke-width="0.95" />
<path d="M392.50,577.30 L394.10,585.30 L390.90,585.30 Z" fill="#111"/>
<path d="M392.50,732.20 L390.90,724.20 L394.10,724.20 Z" fill="#111"/>
<text transform="translate(387.20,654.75) rotate(-90)" x="0" y="0" font-size="16" text-anchor="middle" fill="#222" letter-spacing="0">274,5</text>
<line x1="211.30" y1="794.50" x2="352.90" y2="794.50" stroke="#9a9a9a" stroke-width="0.95" />
<path d="M211.30,794.50 L219.30,792.90 L219.30,796.10 Z" fill="#111"/>
<path d="M352.90,794.50 L344.90,796.10 L344.90,792.90 Z" fill="#111"/>
<text transform="translate(282.10,788.80)" x="0" y="0" font-size="16" text-anchor="middle" fill="#222" letter-spacing="0">250</text>
<text transform="translate(296.20,491.50)" x="0" y="0" font-size="16" text-anchor="middle" fill="#222" letter-spacing="0.45">Вид без крышки</text>
<path d="M446.6,546.8 L588.0,546.8 A10,10 0 0 1 598.0,556.8 L598.0,753.6 A8.5,8.5 0 0 1 589.5,762.1 L445.1,762.1 A8.5,8.5 0 0 1 436.6,753.6 L436.6,556.8 A10,10 0 0 1 446.6,546.8 Z" stroke="#151515" stroke-width="2.3" fill="none" />
<line x1="459.50" y1="546.80" x2="459.50" y2="549.30" stroke="#333" stroke-width="1.2" />
<line x1="459.50" y1="762.10" x2="459.50" y2="759.60" stroke="#333" stroke-width="1.2" />
<line x1="478.50" y1="546.80" x2="478.50" y2="557.30" stroke="#333" stroke-width="1.2" />
<line x1="478.50" y1="762.10" x2="478.50" y2="752.10" stroke="#333" stroke-width="1.2" />
<line x1="502.50" y1="546.80" x2="502.50" y2="549.30" stroke="#333" stroke-width="1.2" />
<line x1="502.50" y1="762.10" x2="502.50" y2="759.60" stroke="#333" stroke-width="1.2" />
<line x1="532.50" y1="546.80" x2="532.50" y2="549.30" stroke="#333" stroke-width="1.2" />
<line x1="532.50" y1="762.10" x2="532.50" y2="759.60" stroke="#333" stroke-width="1.2" />
<line x1="556.50" y1="546.80" x2="556.50" y2="557.30" stroke="#333" stroke-width="1.2" />
<line x1="556.50" y1="762.10" x2="556.50" y2="752.10" stroke="#333" stroke-width="1.2" />
<line x1="575.50" y1="546.80" x2="575.50" y2="549.30" stroke="#333" stroke-width="1.2" />
<line x1="575.50" y1="762.10" x2="575.50" y2="759.60" stroke="#333" stroke-width="1.2" />
<line x1="436.60" y1="569.50" x2="439.10" y2="569.50" stroke="#333" stroke-width="1.2" />
<line x1="598.00" y1="569.50" x2="595.50" y2="569.50" stroke="#333" stroke-width="1.2" />
<line x1="436.60" y1="598.50" x2="439.10" y2="598.50" stroke="#333" stroke-width="1.2" />
<line x1="598.00" y1="598.50" x2="595.50" y2="598.50" stroke="#333" stroke-width="1.2" />
<line x1="436.60" y1="654.50" x2="439.10" y2="654.50" stroke="#333" stroke-width="1.2" />
<line x1="598.00" y1="654.50" x2="595.50" y2="654.50" stroke="#333" stroke-width="1.2" />
<line x1="436.60" y1="710.50" x2="439.10" y2="710.50" stroke="#333" stroke-width="1.2" />
<line x1="598.00" y1="710.50" x2="595.50" y2="710.50" stroke="#333" stroke-width="1.2" />
<line x1="436.60" y1="739.50" x2="439.10" y2="739.50" stroke="#333" stroke-width="1.2" />
<line x1="598.00" y1="739.50" x2="595.50" y2="739.50" stroke="#333" stroke-width="1.2" />
<line x1="449.50" y1="529.00" x2="449.50" y2="726.00" stroke="#b8b8b8" stroke-width="0.95" />
<line x1="586.50" y1="529.00" x2="586.50" y2="726.00" stroke="#b8b8b8" stroke-width="0.95" />
<line x1="449.20" y1="532.50" x2="586.00" y2="532.50" stroke="#9a9a9a" stroke-width="0.95" />
<path d="M449.20,532.50 L457.20,530.90 L457.20,534.10 Z" fill="#111"/>
<path d="M586.00,532.50 L578.00,534.10 L578.00,530.90 Z" fill="#111"/>
<text transform="translate(517.30,526.60)" x="0" y="0" font-size="16" text-anchor="middle" fill="#222" letter-spacing="0">237</text>
<line x1="463.50" y1="586.00" x2="463.50" y2="798.00" stroke="#9a9a9a" stroke-width="0.95" />
<line x1="571.50" y1="586.00" x2="571.50" y2="798.00" stroke="#9a9a9a" stroke-width="0.95" />
<line x1="471.00" y1="579.50" x2="634.00" y2="579.50" stroke="#9a9a9a" stroke-width="0.95" />
<line x1="471.00" y1="729.50" x2="634.00" y2="729.50" stroke="#9a9a9a" stroke-width="0.95" />
<rect x="455.5" y="567.4" width="123.70000000000005" height="4.2" rx="2.1" stroke="#3a3a3a" stroke-width="1.0" fill="#c4c4c4"/>
<line x1="457.50" y1="569.50" x2="577.20" y2="569.50" stroke="#777" stroke-width="1.0" />
<rect x="455.5" y="737.4" width="123.70000000000005" height="4.2" rx="2.1" stroke="#3a3a3a" stroke-width="1.0" fill="#c4c4c4"/>
<line x1="457.50" y1="739.50" x2="577.20" y2="739.50" stroke="#777" stroke-width="1.0" />
<rect x="448.50" y="602.30" width="137.50" height="3.70" rx="0" stroke="#2b2b2b" stroke-width="0" fill="#cfcfcf"/>
<rect x="448.50" y="618.30" width="137.50" height="3.00" rx="0" stroke="#2b2b2b" stroke-width="0" fill="#cfcfcf"/>
<line x1="448.50" y1="602.50" x2="586.00" y2="602.50" stroke="#555" stroke-width="1.0" />
<line x1="448.50" y1="606.00" x2="586.00" y2="606.00" stroke="#333" stroke-width="1.5" />
<line x1="448.50" y1="618.30" x2="586.00" y2="618.30" stroke="#333" stroke-width="1.5" />
<line x1="448.50" y1="621.50" x2="586.00" y2="621.50" stroke="#666" stroke-width="1.0" />
<rect x="437.80" y="599.70" width="10.70" height="24.40" rx="0" stroke="#2b2b2b" stroke-width="0" fill="#e4e4e4"/>
<line x1="438.20" y1="599.70" x2="438.20" y2="624.10" stroke="#555" stroke-width="1.6" />
<rect x="439.50" y="599.50" width="15.00" height="2.00" rx="1" stroke="#333" stroke-width="0.8" fill="#8a8a8a"/>
<rect x="439.50" y="621.50" width="15.00" height="3.00" rx="1" stroke="#333" stroke-width="0.8" fill="#8a8a8a"/>
<line x1="448.50" y1="601.30" x2="448.50" y2="622.30" stroke="#444" stroke-width="1.0" />
<circle cx="440.80" cy="605.00" r="2.70" stroke="#333" stroke-width="1.3" fill="#f4f4f4"/>
<circle cx="440.80" cy="605.00" r="0.90" stroke="#2b2b2b" stroke-width="0" fill="#222"/>
<path d="M446.20000000000005,602.6 L447.0,602.6 Q448.8,605.0 447.0,607.4 L446.20000000000005,607.4 Z" stroke="#333" stroke-width="0.8" fill="#eee" />
<circle cx="440.80" cy="618.80" r="2.70" stroke="#333" stroke-width="1.3" fill="#f4f4f4"/>
<circle cx="440.80" cy="618.80" r="0.90" stroke="#2b2b2b" stroke-width="0" fill="#222"/>
<path d="M446.20000000000005,616.4 L447.0,616.4 Q448.8,618.8 447.0,621.1999999999999 L446.20000000000005,621.1999999999999 Z" stroke="#333" stroke-width="0.8" fill="#eee" />
<line x1="438.80" y1="608.50" x2="446.10" y2="608.50" stroke="#666" stroke-width="0.8" />
<line x1="438.80" y1="615.50" x2="446.10" y2="615.50" stroke="#666" stroke-width="0.8" />
<rect x="586.10" y="599.70" width="10.70" height="24.40" rx="0" stroke="#2b2b2b" stroke-width="0" fill="#e4e4e4"/>
<line x1="596.40" y1="599.70" x2="596.40" y2="624.10" stroke="#555" stroke-width="1.6" />
<rect x="580.50" y="599.50" width="15.00" height="2.00" rx="1" stroke="#333" stroke-width="0.8" fill="#8a8a8a"/>
<rect x="580.50" y="621.50" width="15.00" height="3.00" rx="1" stroke="#333" stroke-width="0.8" fill="#8a8a8a"/>
<line x1="586.50" y1="601.30" x2="586.50" y2="622.30" stroke="#444" stroke-width="1.0" />
<circle cx="593.80" cy="605.00" r="2.70" stroke="#333" stroke-width="1.3" fill="#f4f4f4"/>
<circle cx="593.80" cy="605.00" r="0.90" stroke="#2b2b2b" stroke-width="0" fill="#222"/>
<path d="M588.4,602.6 L587.6,602.6 Q585.8,605.0 587.6,607.4 L588.4,607.4 Z" stroke="#333" stroke-width="0.8" fill="#eee" />
<circle cx="593.80" cy="618.80" r="2.70" stroke="#333" stroke-width="1.3" fill="#f4f4f4"/>
<circle cx="593.80" cy="618.80" r="0.90" stroke="#2b2b2b" stroke-width="0" fill="#222"/>
<path d="M588.4,616.4 L587.6,616.4 Q585.8,618.8 587.6,621.1999999999999 L588.4,621.1999999999999 Z" stroke="#333" stroke-width="0.8" fill="#eee" />
<line x1="595.80" y1="608.50" x2="588.50" y2="608.50" stroke="#666" stroke-width="0.8" />
<line x1="595.80" y1="615.50" x2="588.50" y2="615.50" stroke="#666" stroke-width="0.8" />
<line x1="422.50" y1="602.50" x2="436.60" y2="602.50" stroke="#9a9a9a" stroke-width="0.95" />
<line x1="422.50" y1="621.50" x2="436.60" y2="621.50" stroke="#9a9a9a" stroke-width="0.95" />
<line x1="425.50" y1="602.30" x2="425.50" y2="621.30" stroke="#9a9a9a" stroke-width="0.95" />
<path d="M425.60,602.30 L427.20,610.30 L424.00,610.30 Z" fill="#111"/>
<path d="M425.60,621.30 L424.00,613.30 L427.20,613.30 Z" fill="#111"/>
<text transform="translate(419.70,611.80) rotate(-90)" x="0" y="0" font-size="16" text-anchor="middle" fill="#222" letter-spacing="0">35</text>
<rect x="448.50" y="687.40" width="137.50" height="3.70" rx="0" stroke="#2b2b2b" stroke-width="0" fill="#cfcfcf"/>
<rect x="448.50" y="703.30" width="137.50" height="3.00" rx="0" stroke="#2b2b2b" stroke-width="0" fill="#cfcfcf"/>
<line x1="448.50" y1="687.50" x2="586.00" y2="687.50" stroke="#555" stroke-width="1.0" />
<line x1="448.50" y1="691.10" x2="586.00" y2="691.10" stroke="#333" stroke-width="1.5" />
<line x1="448.50" y1="703.30" x2="586.00" y2="703.30" stroke="#333" stroke-width="1.5" />
<line x1="448.50" y1="706.50" x2="586.00" y2="706.50" stroke="#666" stroke-width="1.0" />
<rect x="437.80" y="684.80" width="10.70" height="24.30" rx="0" stroke="#2b2b2b" stroke-width="0" fill="#e4e4e4"/>
<line x1="438.20" y1="684.80" x2="438.20" y2="709.10" stroke="#555" stroke-width="1.6" />
<rect x="439.50" y="684.50" width="15.00" height="3.00" rx="1" stroke="#333" stroke-width="0.8" fill="#8a8a8a"/>
<rect x="439.50" y="706.50" width="15.00" height="3.00" rx="1" stroke="#333" stroke-width="0.8" fill="#8a8a8a"/>
<line x1="448.50" y1="686.40" x2="448.50" y2="707.30" stroke="#444" stroke-width="1.0" />
<circle cx="440.80" cy="690.10" r="2.70" stroke="#333" stroke-width="1.3" fill="#f4f4f4"/>
<circle cx="440.80" cy="690.10" r="0.90" stroke="#2b2b2b" stroke-width="0" fill="#222"/>
<path d="M446.20000000000005,687.7 L447.0,687.7 Q448.8,690.1 447.0,692.5 L446.20000000000005,692.5 Z" stroke="#333" stroke-width="0.8" fill="#eee" />
<circle cx="440.80" cy="703.80" r="2.70" stroke="#333" stroke-width="1.3" fill="#f4f4f4"/>
<circle cx="440.80" cy="703.80" r="0.90" stroke="#2b2b2b" stroke-width="0" fill="#222"/>
<path d="M446.20000000000005,701.4 L447.0,701.4 Q448.8,703.8 447.0,706.1999999999999 L446.20000000000005,706.1999999999999 Z" stroke="#333" stroke-width="0.8" fill="#eee" />
<line x1="438.80" y1="693.50" x2="446.10" y2="693.50" stroke="#666" stroke-width="0.8" />
<line x1="438.80" y1="700.50" x2="446.10" y2="700.50" stroke="#666" stroke-width="0.8" />
<rect x="586.10" y="684.80" width="10.70" height="24.30" rx="0" stroke="#2b2b2b" stroke-width="0" fill="#e4e4e4"/>
<line x1="596.40" y1="684.80" x2="596.40" y2="709.10" stroke="#555" stroke-width="1.6" />
<rect x="580.50" y="684.50" width="15.00" height="3.00" rx="1" stroke="#333" stroke-width="0.8" fill="#8a8a8a"/>
<rect x="580.50" y="706.50" width="15.00" height="3.00" rx="1" stroke="#333" stroke-width="0.8" fill="#8a8a8a"/>
<line x1="586.50" y1="686.40" x2="586.50" y2="707.30" stroke="#444" stroke-width="1.0" />
<circle cx="593.80" cy="690.10" r="2.70" stroke="#333" stroke-width="1.3" fill="#f4f4f4"/>
<circle cx="593.80" cy="690.10" r="0.90" stroke="#2b2b2b" stroke-width="0" fill="#222"/>
<path d="M588.4,687.7 L587.6,687.7 Q585.8,690.1 587.6,692.5 L588.4,692.5 Z" stroke="#333" stroke-width="0.8" fill="#eee" />
<circle cx="593.80" cy="703.80" r="2.70" stroke="#333" stroke-width="1.3" fill="#f4f4f4"/>
<circle cx="593.80" cy="703.80" r="0.90" stroke="#2b2b2b" stroke-width="0" fill="#222"/>
<path d="M588.4,701.4 L587.6,701.4 Q585.8,703.8 587.6,706.1999999999999 L588.4,706.1999999999999 Z" stroke="#333" stroke-width="0.8" fill="#eee" />
<line x1="595.80" y1="693.50" x2="588.50" y2="693.50" stroke="#666" stroke-width="0.8" />
<line x1="595.80" y1="700.50" x2="588.50" y2="700.50" stroke="#666" stroke-width="0.8" />
<line x1="422.50" y1="687.50" x2="436.60" y2="687.50" stroke="#9a9a9a" stroke-width="0.95" />
<line x1="422.50" y1="706.50" x2="436.60" y2="706.50" stroke="#9a9a9a" stroke-width="0.95" />
<line x1="425.50" y1="687.40" x2="425.50" y2="706.30" stroke="#9a9a9a" stroke-width="0.95" />
<path d="M425.60,687.40 L427.20,695.40 L424.00,695.40 Z" fill="#111"/>
<path d="M425.60,706.30 L424.00,698.30 L427.20,698.30 Z" fill="#111"/>
<text transform="translate(419.70,696.85) rotate(-90)" x="0" y="0" font-size="16" text-anchor="middle" fill="#222" letter-spacing="0">35</text>
<circle cx="448.10" cy="554.10" r="3.60" stroke="#333" stroke-width="0.9" fill="#6a6a6a"/>
<line x1="445.90" y1="551.90" x2="450.30" y2="556.30" stroke="#ccc" stroke-width="0.7" />
<line x1="450.30" y1="551.90" x2="445.90" y2="556.30" stroke="#ccc" stroke-width="0.7" />
<circle cx="448.10" cy="554.10" r="1.20" stroke="#2b2b2b" stroke-width="0" fill="#999"/>
<circle cx="586.40" cy="554.10" r="3.60" stroke="#333" stroke-width="0.9" fill="#6a6a6a"/>
<line x1="584.20" y1="551.90" x2="588.60" y2="556.30" stroke="#ccc" stroke-width="0.7" />
<line x1="588.60" y1="551.90" x2="584.20" y2="556.30" stroke="#ccc" stroke-width="0.7" />
<circle cx="586.40" cy="554.10" r="1.20" stroke="#2b2b2b" stroke-width="0" fill="#999"/>
<circle cx="448.10" cy="754.50" r="3.60" stroke="#333" stroke-width="0.9" fill="#6a6a6a"/>
<line x1="445.90" y1="752.30" x2="450.30" y2="756.70" stroke="#ccc" stroke-width="0.7" />
<line x1="450.30" y1="752.30" x2="445.90" y2="756.70" stroke="#ccc" stroke-width="0.7" />
<circle cx="448.10" cy="754.50" r="1.20" stroke="#2b2b2b" stroke-width="0" fill="#999"/>
<circle cx="586.40" cy="754.50" r="3.60" stroke="#333" stroke-width="0.9" fill="#6a6a6a"/>
<line x1="584.20" y1="752.30" x2="588.60" y2="756.70" stroke="#ccc" stroke-width="0.7" />
<line x1="588.60" y1="752.30" x2="584.20" y2="756.70" stroke="#ccc" stroke-width="0.7" />
<circle cx="586.40" cy="754.50" r="1.20" stroke="#2b2b2b" stroke-width="0" fill="#999"/>
<line x1="446.80" y1="567.70" x2="446.80" y2="585.70" stroke="#777" stroke-width="1.7" />
<line x1="437.80" y1="576.70" x2="455.80" y2="576.70" stroke="#2a2a2a" stroke-width="1.4" />
<circle cx="446.80" cy="576.70" r="4.00" stroke="#444" stroke-width="1.2" fill="#bdbdbd"/>
<line x1="444.20" y1="576.50" x2="449.40" y2="576.50" stroke="#333" stroke-width="1.0" />
<line x1="446.50" y1="574.10" x2="446.50" y2="579.30" stroke="#444" stroke-width="1.0" />
<line x1="587.20" y1="567.80" x2="587.20" y2="585.80" stroke="#777" stroke-width="1.7" />
<line x1="578.20" y1="576.80" x2="596.20" y2="576.80" stroke="#2a2a2a" stroke-width="1.4" />
<circle cx="587.20" cy="576.80" r="4.00" stroke="#444" stroke-width="1.2" fill="#bdbdbd"/>
<line x1="584.60" y1="576.50" x2="589.80" y2="576.50" stroke="#333" stroke-width="1.0" />
<line x1="587.50" y1="574.20" x2="587.50" y2="579.40" stroke="#444" stroke-width="1.0" />
<line x1="446.50" y1="723.00" x2="446.50" y2="741.00" stroke="#777" stroke-width="1.7" />
<line x1="437.50" y1="732.00" x2="455.50" y2="732.00" stroke="#2a2a2a" stroke-width="1.4" />
<circle cx="446.50" cy="732.00" r="4.00" stroke="#444" stroke-width="1.2" fill="#bdbdbd"/>
<line x1="443.90" y1="732.50" x2="449.10" y2="732.50" stroke="#333" stroke-width="1.0" />
<line x1="446.50" y1="729.40" x2="446.50" y2="734.60" stroke="#444" stroke-width="1.0" />
<line x1="587.50" y1="723.00" x2="587.50" y2="741.00" stroke="#777" stroke-width="1.7" />
<line x1="578.50" y1="732.00" x2="596.50" y2="732.00" stroke="#2a2a2a" stroke-width="1.4" />
<circle cx="587.50" cy="732.00" r="4.00" stroke="#444" stroke-width="1.2" fill="#bdbdbd"/>
<line x1="584.90" y1="732.50" x2="590.10" y2="732.50" stroke="#333" stroke-width="1.0" />
<line x1="587.50" y1="729.40" x2="587.50" y2="734.60" stroke="#444" stroke-width="1.0" />
<circle cx="463.80" cy="579.50" r="6.80" stroke="#333" stroke-width="1.1" fill="#fff"/>
<circle cx="463.80" cy="579.50" r="5.50" stroke="#9a9a9a" stroke-width="1.6" fill="none"/>
<rect x="462.30" y="575.50" width="3.0" height="8.0" rx="1.4" transform="rotate(40 463.80 579.50)" stroke="#1a1a1a" stroke-width="1.2" fill="#fff"/>
<circle cx="571.00" cy="579.50" r="6.80" stroke="#333" stroke-width="1.1" fill="#fff"/>
<circle cx="571.00" cy="579.50" r="5.50" stroke="#9a9a9a" stroke-width="1.6" fill="none"/>
<rect x="569.50" y="575.50" width="3.0" height="8.0" rx="1.4" transform="rotate(-40 571.00 579.50)" stroke="#1a1a1a" stroke-width="1.2" fill="#fff"/>
<circle cx="463.70" cy="729.00" r="6.80" stroke="#333" stroke-width="1.1" fill="#fff"/>
<circle cx="463.70" cy="729.00" r="5.50" stroke="#9a9a9a" stroke-width="1.6" fill="none"/>
<rect x="462.20" y="725.00" width="3.0" height="8.0" rx="1.4" transform="rotate(-40 463.70 729.00)" stroke="#1a1a1a" stroke-width="1.2" fill="#fff"/>
<circle cx="571.00" cy="729.00" r="6.80" stroke="#333" stroke-width="1.1" fill="#fff"/>
<circle cx="571.00" cy="729.00" r="5.50" stroke="#9a9a9a" stroke-width="1.6" fill="none"/>
<rect x="569.50" y="725.00" width="3.0" height="8.0" rx="1.4" transform="rotate(40 571.00 729.00)" stroke="#1a1a1a" stroke-width="1.2" fill="#fff"/>
<circle cx="517.40" cy="654.40" r="6.30" stroke="#2b2b2b" stroke-width="1.0" fill="none"/>
<rect x="480.50" y="711.50" width="6.00" height="6.00" rx="0" stroke="#333" stroke-width="1.2" fill="#666"/>
<rect x="482.20" y="713.30" width="2.20" height="2.20" rx="0" stroke="#2b2b2b" stroke-width="0" fill="#ddd"/>
<circle cx="494.80" cy="714.30" r="3.00" stroke="#333" stroke-width="1.0" fill="#555"/>
<line x1="493.00" y1="712.50" x2="496.60" y2="716.10" stroke="#ddd" stroke-width="0.7" />
<line x1="496.60" y1="712.50" x2="493.00" y2="716.10" stroke="#ddd" stroke-width="0.7" />
<circle cx="506.00" cy="714.30" r="3.00" stroke="#333" stroke-width="1.0" fill="#333"/>
<rect x="517.50" y="710.50" width="29.00" height="7.00" rx="0" stroke="#2b2b2b" stroke-width="1.0" fill="none"/>
<line x1="630.50" y1="579.00" x2="630.50" y2="729.10" stroke="#9a9a9a" stroke-width="0.95" />
<path d="M630.90,579.00 L632.50,587.00 L629.30,587.00 Z" fill="#111"/>
<path d="M630.90,729.10 L629.30,721.10 L632.50,721.10 Z" fill="#111"/>
<text transform="translate(626.10,654.50) rotate(-90)" x="0" y="0" font-size="16" text-anchor="middle" fill="#222" letter-spacing="0">265</text>
<line x1="463.60" y1="795.50" x2="571.00" y2="795.50" stroke="#9a9a9a" stroke-width="0.95" />
<path d="M463.60,795.70 L471.60,794.10 L471.60,797.30 Z" fill="#111"/>
<path d="M571.00,795.70 L563.00,797.30 L563.00,794.10 Z" fill="#111"/>
<text transform="translate(517.50,789.60)" x="0" y="0" font-size="16" text-anchor="middle" fill="#222" letter-spacing="0">190</text>
<text transform="translate(517.90,489.30)" x="0" y="0" font-size="16" text-anchor="middle" fill="#222" letter-spacing="0.42">Вид без крышки</text>
<text transform="translate(518.30,508.20)" x="0" y="0" font-size="16" text-anchor="middle" fill="#222" letter-spacing="0.55">и заглушки</text>
</svg></body></html>
